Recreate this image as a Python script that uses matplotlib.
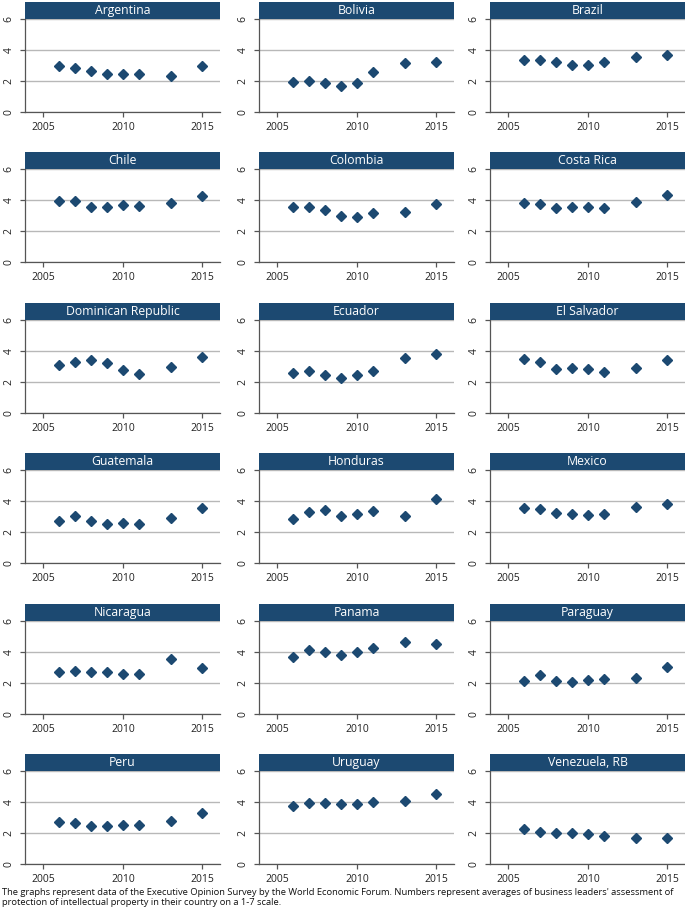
import matplotlib
matplotlib.use('Agg')
import matplotlib.pyplot as plt
from matplotlib.patches import Rectangle

plt.rcParams['font.family'] = ['Open Sans', 'DejaVu Sans']

years = [2006, 2007, 2008, 2009, 2010, 2011, 2013, 2015]

argentina = [2.98, 2.81, 2.66, 2.48, 2.48, 2.46, 2.31, 2.96]
bolivia = [1.94, 2.03, 1.90, 1.68, 1.86, 2.59, 3.15, 3.22]
brazil = [3.35, 3.33, 3.24, 3.05, 3.02, 3.22, 3.52, 3.67]
chile = [3.91, 3.91, 3.54, 3.54, 3.69, 3.60, 3.80, 4.24]
colombia = [3.58, 3.52, 3.38, 2.99, 2.93, 3.17, 3.21, 3.71]
costa_rica = [3.82, 3.71, 3.47, 3.52, 3.54, 3.47, 3.84, 4.32]
dominican_rep = [3.11, 3.28, 3.43, 3.24, 2.76, 2.50, 2.96, 3.63]
ecuador = [2.59, 2.70, 2.46, 2.24, 2.46, 2.74, 3.57, 3.78]
el_salvador = [3.48, 3.28, 2.85, 2.91, 2.87, 2.65, 2.89, 3.39]
guatemala = [2.73, 3.05, 2.73, 2.53, 2.58, 2.51, 2.90, 3.53]
honduras = [2.81, 3.27, 3.44, 3.05, 3.16, 3.33, 3.05, 4.16]
mexico = [3.53, 3.51, 3.23, 3.16, 3.07, 3.18, 3.59, 3.79]
nicaragua = [2.71, 2.79, 2.71, 2.71, 2.60, 2.58, 3.55, 2.97]
panama = [3.70, 4.11, 4.02, 3.83, 4.00, 4.26, 4.63, 4.52]
paraguay = [2.13, 2.52, 2.13, 2.09, 2.17, 2.24, 2.33, 3.02]
peru = [2.70, 2.67, 2.46, 2.48, 2.54, 2.50, 2.78, 3.26]
uruguay = [3.72, 3.92, 3.95, 3.90, 3.88, 4.00, 4.07, 4.50]
venezuela = [2.23, 2.07, 1.97, 1.99, 1.92, 1.80, 1.65, 1.67]

panels = [
    ("Argentina", argentina), ("Bolivia", bolivia), ("Brazil", brazil),
    ("Chile", chile), ("Colombia", colombia), ("Costa Rica", costa_rica),
    ("Dominican Republic", dominican_rep), ("Ecuador", ecuador), ("El Salvador", el_salvador),
    ("Guatemala", guatemala), ("Honduras", honduras), ("Mexico", mexico),
    ("Nicaragua", nicaragua), ("Panama", panama), ("Paraguay", paraguay),
    ("Peru", peru), ("Uruguay", uruguay), ("Venezuela, RB", venezuela),
]

footer = ("The graphs represent data of the Executive Opinion Survey by the World Economic Forum. "
          "Numbers represent averages of business leaders' assessment of\n"
          "protection of intellectual property in their country on a 1-7 scale.")

W, H = 685, 921
col_left = [25, 259, 490]
row_zero = [112, 262, 413, 563, 714, 864]
ax_w, ax_h = 195, 93
bar_h = 17
navy = '#1c4971'

fig = plt.figure(figsize=(W / 100, H / 100), dpi=100)

for i, (name, vals) in enumerate(panels):
    r, c = divmod(i, 3)
    ax = fig.add_axes([col_left[c] / W, 1 - row_zero[r] / H, ax_w / W, ax_h / H])
    ax.plot(years, vals, 'D', color=navy, ms=5, clip_on=False, zorder=3)
    ax.set_xlim(2003.85, 2016.1)
    ax.set_ylim(0, 6)
    ax.set_xticks([2005, 2010, 2015])
    ax.set_yticks([0, 2, 4, 6])
    ax.grid(axis='y', color='#b8b8b8', lw=1)
    ax.set_axisbelow(True)
    for s in ['top', 'right']:
        ax.spines[s].set_visible(False)
    for s in ['left', 'bottom']:
        ax.spines[s].set_color('#555555')
        ax.spines[s].set_linewidth(0.9)
    ax.tick_params(colors='#555555', labelcolor='#222222', labelsize=7.5, length=3.5, width=0.9)
    ax.tick_params(axis='y', pad=4)
    for lbl in ax.get_yticklabels():
        lbl.set_rotation(90)
        lbl.set_va('center')
    ax.add_patch(Rectangle((0, 1), 1, bar_h / ax_h, transform=ax.transAxes,
                           facecolor=navy, edgecolor='none', clip_on=False, zorder=4))
    ax.text(0.5, 1 + bar_h / ax_h / 2, name, transform=ax.transAxes, color='white',
            ha='center', va='center', fontsize=8.8, zorder=5)

fig.text(2 / W, 1 - 888 / H, footer, fontsize=6.75, va='top', ha='left', linespacing=1.2, color='#111111')

fig.savefig('out.png', dpi=100)
